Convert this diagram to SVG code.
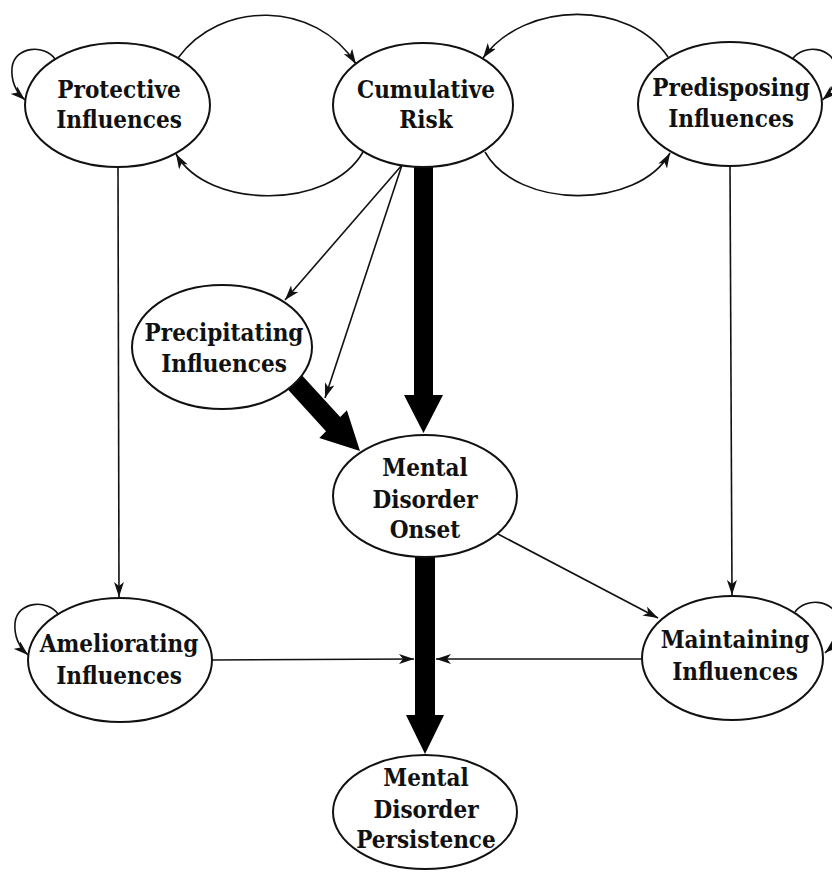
<svg xmlns="http://www.w3.org/2000/svg" width="832" height="873" viewBox="0 0 832 873">
  <style>
    .node ellipse { fill: #ffffff; stroke: #111111; stroke-width: 2; }
    .node text { font-family: "DejaVu Serif Condensed", "DejaVu Serif", "Liberation Serif", serif; font-stretch: condensed; font-weight: bold; font-size: 24px; fill: #111111; text-anchor: middle; }
    .thin { fill: none; stroke: #111111; stroke-width: 1.6; marker-end: url(#ah); }
    .thick { fill: #000000; stroke: none; }
  </style>
  <defs>
    <marker id="ah" viewBox="0 0 15 10" refX="15" refY="5" markerWidth="15" markerHeight="10" markerUnits="userSpaceOnUse" orient="auto">
      <path d="M0,0 L15,5 L0,10 L4,5 Z" fill="#111111"/>
    </marker>
  </defs>
  <rect width="832" height="873" fill="#ffffff"/>

  <g id="connectors">
    <!-- arcs between top-row nodes -->
    <path class="thin" d="M178,58 C220,0 315,0 356,64"/>
    <path class="thin" d="M363,152 C330,210 208,210 176,154"/>
    <path class="thin" d="M668,57 C630,0 525,0 483,58"/>
    <path class="thin" d="M485,152 C518,210 638,210 670,153"/>
    <!-- self loops -->
    <path class="thin" d="M55,59 C45,44 14,46 12,68 C11,82 16,92 25,100"/>
    <path class="thin" d="M792.5,59 C802.5,44 833.5,46 835.5,68 C836.5,82 831.5,92 822.5,100"/>
    <path class="thin" d="M58,614 C48,599 17,601 15,623 C14,637 19,647 28,655"/>
    <path class="thin" d="M795,612 C805,597 836,599 838,621 C839,635 834,645 825,653"/>
    <!-- verticals -->
    <path class="thin" d="M118,167 L119,597"/>
    <path class="thin" d="M730,166 L732,595"/>
    <!-- from cumulative risk -->
    <path class="thin" d="M402,165 L285,300"/>
    <path class="thin" d="M402,165 L325,398"/>
    <!-- onset to maintaining -->
    <path class="thin" d="M498,534 L658,618"/>
    <!-- horizontals into persistence shaft -->
    <path class="thin" d="M212,660 L414,659"/>
    <path class="thin" d="M642,659 L436,659"/>
    <!-- thick arrows -->
    <polygon class="thick" points="414,150 433,150 433,395 443,395 423.5,433 404,395 414,395"/>
    <polygon class="thick" points="297.1,369.9 340.2,417 346.9,410.3 360,451 319.3,437.9 326,431.2 282.9,384.1"/>
    <polygon class="thick" points="415,540 435,540 435,715 444,715 425,754 406,715 415,715"/>
  </g>

  <g id="protective" class="node">
    <ellipse cx="117.5" cy="105" rx="92.5" ry="62"/>
    <text x="119" y="98">Protective</text>
    <text x="119" y="128">Influences</text>
  </g>
  <g id="cumulative" class="node">
    <ellipse cx="423" cy="105" rx="90" ry="62"/>
    <text x="426" y="98">Cumulative</text>
    <text x="426" y="128">Risk</text>
  </g>
  <g id="predisposing" class="node">
    <ellipse cx="730" cy="104" rx="92" ry="62"/>
    <text x="731" y="96">Predisposing</text>
    <text x="731" y="127">Influences</text>
  </g>
  <g id="precipitating" class="node">
    <ellipse cx="222" cy="347" rx="90" ry="62"/>
    <text x="224" y="341">Precipitating</text>
    <text x="224" y="372">Influences</text>
  </g>
  <g id="onset" class="node">
    <ellipse cx="425" cy="496" rx="92" ry="61"/>
    <text x="425" y="476">Mental</text>
    <text x="425" y="508">Disorder</text>
    <text x="425" y="538">Onset</text>
  </g>
  <g id="ameliorating" class="node">
    <ellipse cx="120" cy="660" rx="92" ry="62"/>
    <text x="119" y="652">Ameliorating</text>
    <text x="119" y="684">Influences</text>
  </g>
  <g id="maintaining" class="node">
    <ellipse cx="732.5" cy="658" rx="90.5" ry="62"/>
    <text x="735" y="648">Maintaining</text>
    <text x="735" y="680">Influences</text>
  </g>
  <g id="persistence" class="node">
    <ellipse cx="425" cy="812" rx="92" ry="57"/>
    <text x="426" y="786">Mental</text>
    <text x="426" y="818">Disorder</text>
    <text x="426" y="848">Persistence</text>
  </g>
</svg>
